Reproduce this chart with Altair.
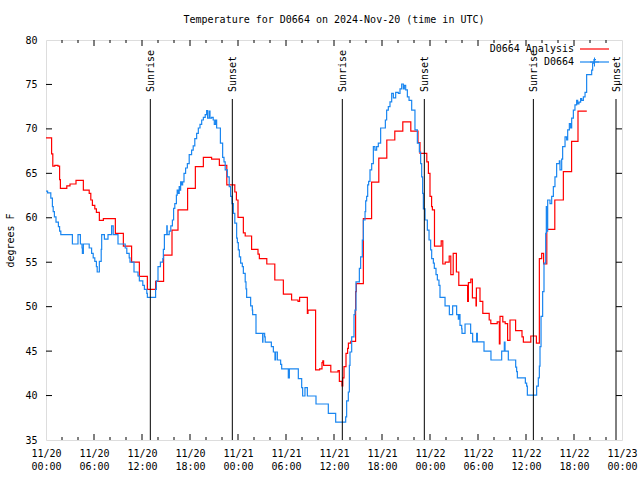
import altair as alt
import pandas as pd

# ---- Data (hours since 2024-11-20 00:00 UTC, deg F) ----
analysis_hours = [0.0, 0.7, 0.85, 1.1, 1.5, 1.7, 1.8, 2.6, 3.0, 3.75, 4.67, 5.4, 5.6, 5.8, 6.1, 6.3,
                  6.67, 7.17, 8.67, 9.67, 10.7, 11.67, 12.67, 13.7, 14.7, 15.75, 16.5, 17.7, 18.67,
                  19.67, 20.7, 21.67, 22.6, 23.6, 23.8, 24.0, 24.67, 24.9, 25.7, 26.5, 26.67, 27.6,
                  28.6, 29.67, 30.7, 31.5, 31.7, 32.67, 32.75, 33.7, 34.2, 34.5, 34.6, 34.7, 35.6,
                  36.5, 36.67, 37.0, 37.1, 37.25, 37.5, 37.7, 37.8, 38.1, 38.7, 38.8, 39.67, 40.7,
                  41.6, 42.6, 43.6, 44.6, 45.6, 46.5, 46.75, 47.6, 47.8, 48.0, 48.2, 48.3, 48.56,
                  49.4, 49.6, 49.9, 50.4, 50.6, 50.9, 51.3, 51.6, 52.7, 52.8, 53.1, 53.3, 53.75,
                  53.8, 54.25, 54.6, 55.4, 55.6, 56.4, 56.67, 56.75, 57.1, 57.4, 57.7, 58.0, 58.7,
                  59.5, 59.67, 60.6, 61.3, 61.67, 61.96, 62.2, 62.6, 63.6, 64.67, 65.7, 66.5, 67.6]
analysis_temps = [69.0, 67.2, 65.8, 65.9, 65.8, 64.3, 63.3, 63.6, 63.8, 64.2, 63.1, 62.75, 62.0, 61.4,
                  61.0, 60.6, 59.7, 59.9, 58.25, 56.8, 55.0, 53.4, 51.95, 52.85, 55.8, 58.6, 60.9,
                  63.3, 65.75, 66.8, 66.6, 65.9, 63.7, 62.9, 62.0, 60.05, 58.3, 57.95, 56.45, 55.9,
                  55.4, 54.8, 53.0, 51.4, 50.75, 50.6, 51.05, 49.25, 49.6, 42.9, 43.0, 43.7, 43.9,
                  43.4, 42.65, 42.8, 41.6, 41.1, 42.0, 43.25, 44.75, 45.3, 45.9, 46.1, 51.7, 52.6,
                  59.9, 64.0, 66.7, 68.75, 69.75, 70.8, 69.75, 68.45, 67.25, 66.3, 65.0, 62.4, 61.25,
                  60.9, 56.8, 57.4, 54.8, 55.0, 55.7, 53.6, 56.0, 53.9, 52.4, 50.6, 52.7, 53.1, 51.0,
                  50.1, 52.1, 50.6, 49.25, 48.5, 48.1, 48.3, 45.8, 48.9, 48.3, 48.1, 46.2, 48.5, 47.3,
                  46.6, 46.0, 46.7, 45.9, 55.4, 56.0, 54.8, 58.7, 62.0, 65.2, 68.6, 72.0, 72.0]

obs_hours = [0.0, 0.2, 0.6, 0.8, 0.9, 1.05, 1.25, 1.55, 1.7, 1.85, 3.3, 4.0, 4.3, 4.5, 4.55, 4.67,
             5.4, 5.7, 5.9, 6.1, 6.3, 6.4, 6.67, 6.9, 6.96, 7.3, 7.75, 8.2, 8.4, 9.0, 9.9, 10.1,
             10.4, 10.5, 11.0, 11.5, 11.67, 12.1, 12.3, 12.6, 12.67, 13.7, 13.8, 14.0, 14.3, 14.6,
             14.67, 14.8, 15.1, 15.15, 15.4, 15.6, 15.8, 15.95, 16.1, 16.3, 16.4, 16.5, 16.65,
             16.75, 16.83, 16.95, 17.08, 17.25, 17.45, 17.67, 17.9, 18.2, 18.4, 18.6, 18.83, 19.04,
             19.25, 19.46, 19.67, 19.9, 20.08, 20.2, 20.4, 20.5, 20.7, 20.9, 21.04, 21.2, 21.33,
             21.8, 22.08, 22.25, 22.4, 22.67, 22.9, 23.08, 23.25, 23.42, 23.6, 23.83, 23.92, 24.04,
             24.17, 24.33, 24.54, 24.67, 24.9, 25.0, 25.08, 25.58, 25.79, 25.83, 26.25, 27.08,
             27.12, 27.33, 27.4, 28.17, 28.42, 28.62, 28.7, 28.92, 29.33, 29.46, 30.29, 30.42,
             31.54, 31.96, 32.08, 32.37, 32.67, 33.75, 35.29, 36.21, 37.46, 37.58, 37.79, 37.92,
             38.0, 38.21, 38.5, 38.62, 38.75, 39.17, 39.33, 39.54, 39.67, 39.88, 39.96, 40.08,
             40.21, 40.33, 40.5, 40.71, 40.92, 41.12, 41.33, 41.54, 41.83, 42.42, 42.58, 42.79,
             43.0, 43.21, 43.42, 43.71, 44.04, 44.25, 44.46, 44.67, 44.79, 44.96, 45.17, 45.38,
             45.71, 46.12, 46.42, 46.67, 46.83, 46.96, 47.08, 47.17, 47.38, 47.67, 47.88, 48.08,
             48.21, 48.42, 48.54, 48.75, 48.92, 49.12, 49.25, 49.88, 50.42, 50.83, 51.33, 51.54,
             51.67, 51.75, 51.96, 52.0, 52.38, 53.08, 53.33, 53.83, 53.92, 54.75, 55.62, 56.96,
             57.29, 57.38, 57.79, 58.71, 58.83, 58.92, 59.92, 60.08, 60.17, 61.33, 61.54, 61.67,
             61.75, 61.88, 62.08, 62.25, 62.46, 62.54, 62.6, 62.71, 63.0, 63.21, 63.42, 63.62,
             63.83, 64.17, 64.25, 64.46, 64.58, 64.88, 65.08, 65.21, 65.42, 65.58, 65.71, 65.92,
             66.12, 66.33, 66.46, 66.62, 66.83, 66.96, 67.17, 67.38, 67.58, 68.21, 68.33, 68.5,
             68.75]
obs_temps = [63.0, 62.8, 62.2, 61.25, 60.7, 60.1, 59.5, 59.0, 58.5, 58.1, 57.05, 58.1, 57.05, 56.6,
             56.0, 57.05, 56.6, 56.0, 55.5, 55.1, 54.5, 53.9, 55.1, 56.45, 58.1, 57.6, 58.1, 59.1,
             58.1, 57.05, 56.6, 56.0, 55.5, 55.0, 53.9, 53.45, 52.9, 52.4, 51.95, 51.5, 51.05,
             51.95, 52.9, 54.5, 55.0, 55.4, 56.45, 58.1, 59.1, 58.1, 58.5, 59.1, 59.75, 61.05,
             61.6, 62.55, 63.1, 62.75, 63.5, 63.1, 64.05, 63.7, 64.05, 65.0, 65.6, 66.1, 67.1,
             67.6, 68.1, 68.9, 69.5, 70.1, 70.5, 71.0, 71.3, 71.6, 72.05, 71.2, 72.0, 71.2, 71.3,
             71.0, 70.5, 71.0, 70.1, 68.4, 66.8, 66.3, 65.4, 64.6, 63.5, 62.4, 61.6, 60.5, 59.4,
             57.7, 57.2, 56.4, 55.6, 54.9, 54.5, 53.75, 52.8, 52.0, 51.05, 50.1, 49.6, 49.1, 47.0,
             46.0, 47.0, 46.6, 46.0, 45.5, 44.9, 44.0, 44.9, 44.0, 43.5, 43.0, 42.0, 43.0, 41.9,
             40.9, 39.95, 40.9, 39.95, 39.05, 38.0, 37.0, 37.6, 39.4, 40.4, 43.4, 44.9, 46.6, 49.1,
             49.6, 52.8, 54.3, 55.6, 57.5, 59.75, 60.7, 61.9, 62.4, 63.7, 64.1, 65.4, 66.1, 68.0,
             67.6, 68.0, 68.4, 70.1, 71.0, 72.1, 72.5, 73.05, 74.0, 73.5, 74.1, 74.0, 74.5, 75.05,
             74.5, 74.9, 74.4, 73.6, 73.2, 72.1, 69.9, 68.4, 67.4, 66.1, 64.6, 62.75, 61.0, 59.75,
             58.6, 57.5, 56.4, 55.4, 54.9, 54.3, 53.6, 53.0, 52.4, 51.05, 50.1, 49.1, 50.1, 49.1,
             48.6, 49.1, 47.9, 47.5, 47.0, 48.05, 47.0, 46.05, 47.0, 46.05, 45.0, 44.0, 45.0, 46.0,
             45.0, 44.0, 43.2, 42.7, 42.0, 41.4, 41.05, 40.05, 41.05, 42.0, 43.3, 45.5, 48.9, 51.7,
             54.9, 58.25, 61.25, 58.5, 62.0, 61.6, 62.4, 63.5, 64.6, 66.1, 66.4, 65.4, 66.6, 68.0,
             69.1, 68.75, 69.9, 70.6, 70.1, 71.2, 72.1, 72.7, 73.2, 72.8, 73.0, 73.4, 73.2, 73.6,
             74.1, 76.1, 76.6, 77.4, 77.8, 77.8]

sun_hours = [13.04, 23.29, 37.04, 47.29, 60.92, 71.25]
sun_labels = ["Sunrise", "Sunset", "Sunrise", "Sunset", "Sunrise", "Sunset"]

x_major = [0, 6, 12, 18, 24, 30, 36, 42, 48, 54, 60, 66, 72]
x_minor = [h for h in range(0, 73, 2) if h % 6 != 0]
x_dates = ["11/20", "11/20", "11/20", "11/20", "11/21", "11/21", "11/21", "11/21",
           "11/22", "11/22", "11/22", "11/22", "11/23"]
x_times = ["00:00", "06:00", "12:00", "18:00", "00:00", "06:00", "12:00", "18:00",
           "00:00", "06:00", "12:00", "18:00", "00:00"]
y_ticks = [35, 40, 45, 50, 55, 60, 65, 70, 75, 80]

legend_labels = ["D0664 Analysis", "D0664"]
RED = "#ff0000"
BLUE = "#1a86f0"
FONT = "DejaVu Sans Mono"

W, H = 576, 400

# ---- Build ----
xs = alt.Scale(domain=[0, 72], nice=False, zero=False)
ys = alt.Scale(domain=[35, 80], nice=False, zero=False)

label_arr = "[" + ",".join("['%s','%s']" % (d, t) for d, t in zip(x_dates, x_times)) + "]"
xaxis = alt.Axis(values=x_major, labelExpr=label_arr + "[round(datum.value/6)]",
                 ticks=False, domain=False, grid=False, labelPadding=8, labelLineHeight=13,
                 labelFontSize=10, labelFont=FONT, labelColor="black", labelFlush=False,
                 labelOverlap=False, title=None)
yaxis = alt.Axis(values=y_ticks, ticks=False, domain=False, grid=False, labelPadding=9,
                 labelFontSize=10, labelFont=FONT, labelColor="black", title="degrees F",
                 titleFont=FONT, titleFontSize=10, titleFontWeight="normal", titleColor="black",
                 titlePadding=9, labelFlush=False, labelOverlap=False)

red_df = pd.DataFrame({"h": analysis_hours, "t": analysis_temps})
obs_df = pd.DataFrame({"h": obs_hours, "t": obs_temps})
sun_df = pd.DataFrame({"h": sun_hours, "label": sun_labels})

X = alt.X("h:Q", scale=xs, axis=xaxis)
Y = alt.Y("t:Q", scale=ys, axis=yaxis)

red_line = alt.Chart(red_df).mark_line(interpolate="step-after", color=RED, strokeWidth=1.2).encode(
    x=X, y=Y)
blue_line = alt.Chart(obs_df).mark_line(interpolate="step-after", color=BLUE, strokeWidth=1.2).encode(
    x=X, y=Y)

sun_rules = alt.Chart(sun_df).mark_rule(color="black", strokeWidth=1).encode(
    x=X, y=alt.value(59), y2=alt.value(H))
sun_text = alt.Chart(sun_df).mark_text(angle=270, align="left", baseline="middle", font=FONT,
                                       fontSize=10, color="black", dy=1).encode(
    x=X, y=alt.value(52), text="label:N")

def xticks(vals, y0, y1):
    return alt.Chart(pd.DataFrame({"h": vals})).mark_rule(color="black", strokeWidth=1).encode(
        x=X, y=alt.value(y0), y2=alt.value(y1))

def yticks(x0, x1):
    return alt.Chart(pd.DataFrame({"t": y_ticks[1:-1]})).mark_rule(color="black", strokeWidth=1).encode(
        y=Y, x=alt.value(x0), x2=alt.value(x1))

ticks = [xticks(x_major[1:-1], H, H - 6), xticks(x_major[1:-1], 0, 6),
         xticks(x_minor, H, H - 3), xticks(x_minor, 0, 3),
         yticks(0, 6), yticks(W, W - 6)]

one = pd.DataFrame({"k": [0]})
leg_text1 = alt.Chart(one).mark_text(align="right", baseline="middle", font=FONT, fontSize=10,
                                     color="black").encode(
    x=alt.value(528), y=alt.value(9), text=alt.value(legend_labels[0]))
leg_text2 = alt.Chart(one).mark_text(align="right", baseline="middle", font=FONT, fontSize=10,
                                     color="black").encode(
    x=alt.value(528), y=alt.value(22), text=alt.value(legend_labels[1]))
leg_red = alt.Chart(one).mark_rule(color=RED, strokeWidth=1.2).encode(
    x=alt.value(534), x2=alt.value(563), y=alt.value(9))
leg_blue = alt.Chart(one).mark_rule(color=BLUE, strokeWidth=1.2).encode(
    x=alt.value(534), x2=alt.value(563), y=alt.value(22))
leg_pt = alt.Chart(one).mark_point(shape="M-1,0L1,0M0,-1L0,1", size=81, color=BLUE,
                                   filled=False, strokeWidth=1, opacity=1).encode(
    x=alt.value(548.5), y=alt.value(22))

chart = alt.layer(red_line, blue_line, *ticks, sun_rules, sun_text,
                  leg_text1, leg_text2, leg_red, leg_blue, leg_pt).properties(
    width=W, height=H,
    autosize=alt.AutoSizeParams(type="none"),
    padding={"left": 46, "top": 40, "right": 18, "bottom": 40},
    title=alt.Title("Temperature for D0664 on 2024-Nov-20 (time in UTC)", font=FONT, fontSize=10,
                    fontWeight="normal", color="black", anchor="middle", baseline="alphabetic",
                    offset=2),
).configure_view(stroke="black", strokeWidth=1).configure(background="white")

chart.save("out.html", embed_options={"renderer": "svg", "actions": False})
